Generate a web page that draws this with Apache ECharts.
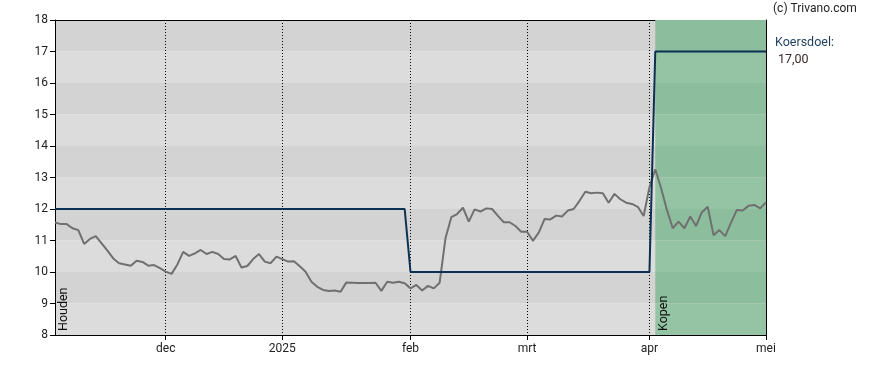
<!DOCTYPE html>
<html>
<head>
<meta charset="utf-8">
<script src="https://cdn.jsdelivr.net/npm/echarts@6/dist/echarts.min.js"></script>
<style>
html,body{margin:0;padding:0;background:#fff;}
#chart{width:888px;height:370px;}
</style>
</head>
<body>
<div id="chart"></div>
<script>
// Trading-day axis: first and last day, and exchange holidays
var firstDay = '2024-11-05';
var lastDay = '2025-05-02';
var holidays = ['2024-12-25','2024-12-26','2025-01-01','2025-04-18','2025-04-21','2025-05-01'];
var monthLabels = {'2024-12':'dec','2025-01':'2025','2025-02':'feb','2025-03':'mrt','2025-04':'apr','2025-05':'mei'};

// Closing prices, one per trading day
var prices = [
 11.57,11.52,11.52,11.39,11.33,10.89,11.05,11.14,10.91,10.68,
 10.43,10.28,10.24,10.20,10.36,10.32,10.20,10.22,10.12,10.01,
 9.94,10.24,10.64,10.51,10.59,10.70,10.57,10.64,10.57,10.41,
 10.40,10.51,10.14,10.19,10.41,10.57,10.33,10.28,10.49,10.41,
 10.33,10.34,10.18,10.01,9.69,9.53,9.43,9.40,9.41,9.37,
 9.67,9.66,9.65,9.65,9.65,9.66,9.40,9.69,9.66,9.69,
 9.64,9.48,9.59,9.41,9.56,9.48,9.66,11.07,11.74,11.84,
 12.04,11.60,11.99,11.92,12.02,12.00,11.78,11.58,11.58,11.46,
 11.28,11.28,10.99,11.25,11.68,11.67,11.79,11.76,11.95,12.00,
 12.26,12.55,12.50,12.52,12.50,12.20,12.48,12.31,12.20,12.16,
 12.07,11.78,12.69,13.26,12.66,11.97,11.39,11.60,11.39,11.76,
 11.46,11.90,12.07,11.17,11.33,11.14,11.57,11.97,11.95,12.10,
 12.13,12.02,12.21
];

// Price target (koersdoel): start index of each level and its value
var targetStarts = [0, 61, 103];
var targetValues = [12, 10, 17];

// Advice zones: start index and label
var adviceStarts = [0, 103];
var adviceLabels = ['Houden', 'Kopen'];

var yMin = 8, yMax = 18;

function fmt(d){
  var m = d.getUTCMonth()+1, dd = d.getUTCDate();
  return d.getUTCFullYear()+'-'+(m<10?'0':'')+m+'-'+(dd<10?'0':'')+dd;
}
var dates = [];
(function(){
  var d = new Date(firstDay+'T00:00:00Z'), end = new Date(lastDay+'T00:00:00Z');
  while (d <= end) {
    var wd = d.getUTCDay(), s = fmt(d);
    if (wd !== 0 && wd !== 6 && holidays.indexOf(s) < 0) dates.push(s);
    d = new Date(d.getTime()+86400000);
  }
})();
var monthStart = dates.map(function(s,i){
  return i > 0 && s.slice(0,7) !== dates[i-1].slice(0,7);
});

var target = dates.map(function(s,i){
  var v = targetValues[0];
  for (var k=0;k<targetStarts.length;k++) if (i >= targetStarts[k]) v = targetValues[k];
  return v;
});

// green bands for the "Kopen" zone
var bandGreen = [];
for (var y=yMin; y<yMax; y++) {
  bandGreen.push([
    {xAxis: adviceStarts[1], yAxis: y, itemStyle:{color: ((y-yMin)%2===0) ? '#94c4a4' : '#8cbd9c'}},
    {xAxis: dates.length-1, yAxis: y+1}
  ]);
}

var chart = echarts.init(document.getElementById('chart'));
var font = 'Roboto, "Liberation Sans", sans-serif';
chart.setOption({
  animation: false,
  backgroundColor: '#ffffff',
  grid: {left: 55, right: 122, top: 20, bottom: 35, containLabel: false},
  xAxis: [{
    type: 'category',
    data: dates,
    boundaryGap: false,
    axisLine: {show: true, lineStyle: {color: '#000', width: 1}},
    axisTick: {show: true, length: 5, lineStyle:{color:'#000'}, interval: function(i){return monthStart[i];}},
    axisLabel: {
      interval: function(i){return monthStart[i];},
      formatter: function(v){return monthLabels[v.slice(0,7)] || '';},
      color: '#222', fontFamily: font, fontSize: 12, margin: 8
    },
    splitLine: {show: true, interval: function(i){return monthStart[i];}, lineStyle: {color: '#000', type: [1,2], width: 1}}
  },{
    type: 'category',
    data: dates,
    boundaryGap: false,
    position: 'top',
    axisLine: {show: true, lineStyle: {color: '#000', width: 1}},
    axisTick: {show: false}, axisLabel: {show: false}, splitLine: {show: false}
  }],
  yAxis: [{
    type: 'value', min: yMin, max: yMax, interval: 1,
    axisLine: {show: true, lineStyle: {color: '#000', width: 1}},
    axisTick: {show: true, length: 5, lineStyle:{color:'#000'}},
    axisLabel: {color: '#222', fontFamily: font, fontSize: 12, margin: 7},
    splitLine: {show: false},
    splitArea: {show: true, areaStyle: {color: ['#dcdcdc', '#d3d3d3']}}
  },{
    type: 'value', min: yMin, max: yMax, interval: 1, position: 'right',
    axisLine: {show: true, lineStyle: {color: '#000', width: 1}},
    axisTick: {show: false}, axisLabel: {show: false}, splitLine: {show: false}
  }],
  series: [{
    name: 'zone', type: 'line', data: [], silent: true,
    markArea: {silent: true, data: bandGreen}
  },{
    name: 'Koers', type: 'line', data: prices, symbol: 'none',
    lineStyle: {color: '#707070', width: 2}, z: 3
  },{
    name: 'Koersdoel', type: 'line', data: target, symbol: 'none',
    lineStyle: {color: '#0b3152', width: 2}, z: 4
  }],
  graphic: [
    {type:'text', left: 773, top: 3, style:{text:'(c) Trivano.com', fill:'#222', font:'12px '+font}},
    {type:'text', left: 775, top: 36, style:{text:'Koersdoel:', fill:'#1d3f5e', font:'12.5px '+font}},
    {type:'text', left: 778, top: 53, style:{text:'17,00', fill:'#3a2a2a', font:'12.5px '+font}}
  ]
});

// vertical advice labels, positioned from the axis scales
var gr = [];
adviceStarts.forEach(function(idx, k){
  var p = chart.convertToPixel({xAxisIndex:0, yAxisIndex:0}, [idx, yMin]);
  gr.push({type:'text', x: p[0]+2, y: p[1]-4, rotation: Math.PI/2,
    style:{text: adviceLabels[k], fill:'#111', font:'12.5px '+font, textAlign:'left', textVerticalAlign:'top'}, z: 10});
});
chart.setOption({graphic: chart.getOption().graphic[0].elements.concat(gr)});
</script>
</body>
</html>
